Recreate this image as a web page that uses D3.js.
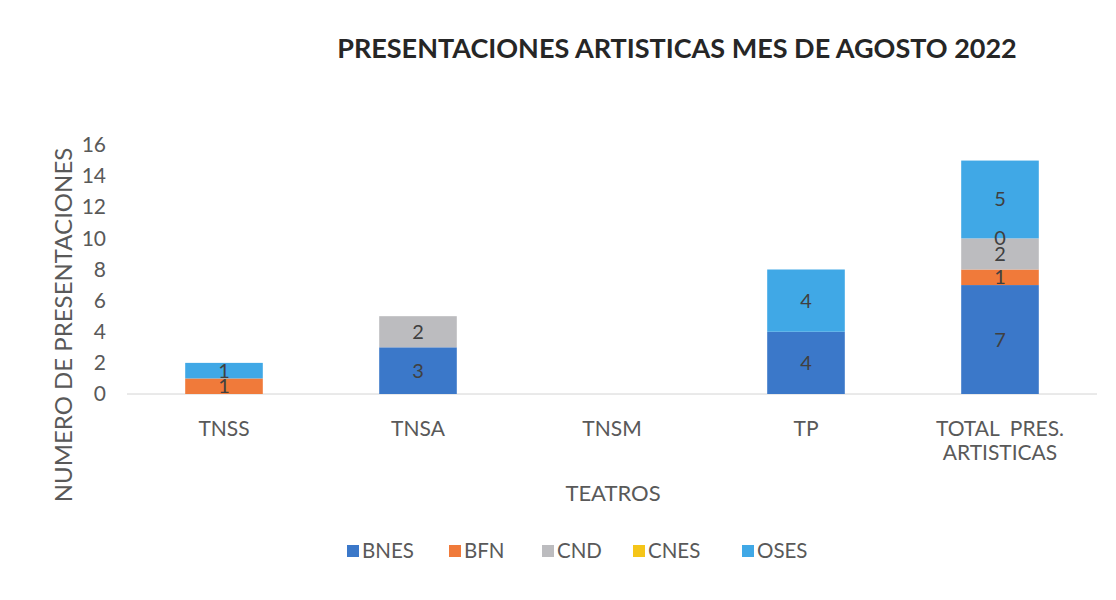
<!DOCTYPE html>
<html><head><meta charset="utf-8">
<script src="https://cdn.jsdelivr.net/npm/d3@7"></script>
<style>body{margin:0;background:#fff;} svg{display:block;}</style>
</head><body><div id="chart"></div>
<script>
const categories = ["TNSS", "TNSA", "TNSM", "TP", "TOTAL  PRES. ARTISTICAS"];
const categoryLines = [["TNSS"], ["TNSA"], ["TNSM"], ["TP"], ["TOTAL  PRES.", "ARTISTICAS"]];
const seriesNames = ["BNES", "BFN", "CND", "CNES", "OSES"];
const BNES = [null, 3, null, 4, 7];
const BFN  = [1, null, null, null, 1];
const CND  = [null, 2, null, null, 2];
const CNES = [null, null, null, null, 0];
const OSES = [1, null, null, 4, 5];
const yTicks = [0, 2, 4, 6, 8, 10, 12, 14, 16];
const colors = ["#3b78c9", "#f07a3a", "#bcbcbf", "#f5c518", "#40a8e6"];

const W = 1116, H = 600;
const svg = d3.select("#chart").append("svg").attr("width", W).attr("height", H);
const font = "Lato, 'Open Sans', sans-serif";

const seriesVals = [BNES, BFN, CND, CNES, OSES];
const rows = categories.map((c, i) => {
  const r = {cat: c};
  seriesNames.forEach((s, j) => r[s] = seriesVals[j][i]);
  return r;
});
const stack = d3.stack().keys(seriesNames).value((d, k) => d[k] == null ? 0 : d[k]);
const stacked = stack(rows);

const x = d3.scaleBand().domain(categories).range([127, 1097]).paddingInner(0.6).paddingOuter(0.3);
const y = d3.scaleLinear().domain([0, 16]).range([394, 145]);

// title
svg.append("text").attr("x", 677).attr("y", 58).attr("text-anchor", "middle")
  .attr("font-family", font).attr("font-weight", "bold").attr("font-size", 27)
  .attr("fill", "#262626").text("PRESENTACIONES ARTISTICAS MES DE AGOSTO 2022");

// baseline
svg.append("line").attr("x1", 127).attr("x2", 1097).attr("y1", y(0)).attr("y2", y(0))
  .attr("stroke", "#d4d4d4").attr("stroke-width", 1);

// y axis
const yAxis = d3.axisLeft(y).tickValues(yTicks).tickSize(0).tickPadding(0);
const yg = svg.append("g").attr("transform", "translate(106,0)").call(yAxis);
yg.select(".domain").remove();
yg.selectAll("text").attr("font-family", font).attr("font-size", 21).attr("fill", "#595959");

// x axis
const xAxis = d3.axisBottom(x).tickSize(0).tickPadding(0).tickFormat("");
const xg = svg.append("g").attr("transform", `translate(0,${y(0)})`).call(xAxis);
xg.select(".domain").remove();
categories.forEach((c, i) => {
  const t = svg.append("text").attr("text-anchor", "middle")
    .attr("font-family", font).attr("font-size", 21).attr("fill", "#595959");
  categoryLines[i].forEach((ln, k) => {
    t.append("tspan").attr("x", x(c) + x.bandwidth() / 2).attr("y", 436 + k * 24)
      .attr("xml:space", "preserve").text(ln);
  });
});

// bars
stacked.forEach((s, j) => {
  svg.append("g").attr("fill", colors[j]).selectAll("rect").data(s).join("rect")
    .attr("x", d => x(d.data.cat)).attr("width", x.bandwidth())
    .attr("y", d => y(d[1])).attr("height", d => y(d[0]) - y(d[1]));
});

// labels
stacked.forEach((s, j) => {
  svg.append("g").selectAll("text").data(s.filter(d => d.data[s.key] != null)).join("text")
    .attr("x", d => x(d.data.cat) + x.bandwidth() / 2)
    .attr("y", d => (y(d[0]) + y(d[1])) / 2 + 7)
    .attr("text-anchor", "middle").attr("font-family", font).attr("font-size", 20)
    .attr("fill", "#404040").text(d => d.data[s.key]);
});

// axis titles
svg.append("text").attr("transform", "translate(72,325) rotate(-90)").attr("text-anchor", "middle")
  .attr("font-family", font).attr("font-size", 24).attr("fill", "#595959").text("NUMERO DE PRESENTACIONES");
svg.append("text").attr("x", 613).attr("y", 501).attr("text-anchor", "middle")
  .attr("font-family", font).attr("font-size", 22).attr("fill", "#595959").text("TEATROS");

// legend
const legX = [347, 449, 542, 633, 742];
const lg = svg.append("g");
seriesNames.forEach((s, j) => {
  const g = lg.append("g").attr("transform", `translate(${legX[j]},558)`);
  g.append("rect").attr("x", 0).attr("y", -13).attr("width", 12).attr("height", 12).attr("fill", colors[j]);
  g.append("text").attr("x", 15).attr("y", 0).attr("font-family", font).attr("font-size", 20.5)
    .attr("fill", "#595959").text(s);
});
</script></body></html>
